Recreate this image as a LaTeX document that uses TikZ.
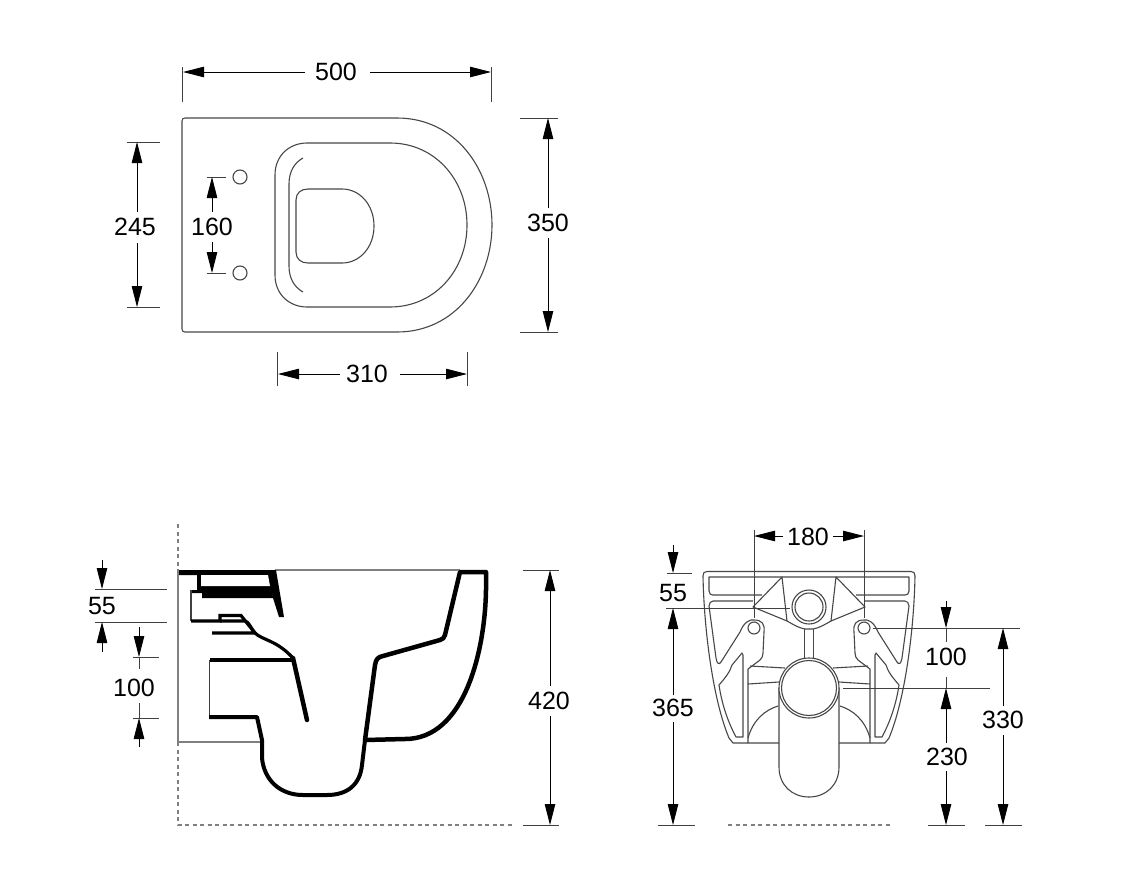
\documentclass[tikz,border=0pt]{standalone}
\usepackage{fontspec}
\setmainfont{Liberation Sans}
\usetikzlibrary{arrows.meta}
\tikzset{
  outline/.style={line width=1.1pt,draw=black!72,line join=round},
  heavy/.style={line width=4.5pt,draw=black,line join=round,line cap=round},
  medium/.style={line width=3.2pt,draw=black,line join=miter},
  grey line/.style={line width=1.1pt,draw=black!50},
  dash line/.style={line width=1.1pt,draw=black!50,dash pattern=on 4pt off 3.5pt},
  dimtip/.style={-{Triangle[length=21pt,width=10.5pt,fill=black]},line width=0.9pt,draw=black},
  ext/.style={line width=0.9pt,draw=black!75},
  label/.style={font=\fontsize{25}{30}\selectfont,text=black,inner sep=0pt}
}
\begin{document}
\begin{tikzpicture}[x=1pt,y=-1pt]
\useasboundingbox[fill=white] (0,0) rectangle (1124,889);
% ---- top view
\draw[outline] (185,118) -- (397,118) .. controls (456,118) and (492,170) .. (492,225)
  .. controls (492,280) and (456,332) .. (397,332) -- (185,332) .. controls (183,332) and (182,331) .. (182,329)
  -- (182,121) .. controls (182,119) and (183,118) .. (185,118) -- cycle;
\draw[outline] (275,175) .. controls (275,155) and (290,143) .. (307,143) -- (390,143)
  .. controls (435,143) and (467,180) .. (467,225) .. controls (467,270) and (435,307) .. (390,307)
  -- (307,307) .. controls (290,307) and (275,295) .. (275,275) -- cycle;
\draw[outline] (303,158) .. controls (294,163) and (289,172) .. (289,184) -- (289,266) .. controls (289,278) and (294,287) .. (303,292);
\draw[outline] (296,200) .. controls (296,193) and (301,189) .. (308,189) -- (342,189)
  .. controls (360,189) and (374,205) .. (374,226) .. controls (374,247) and (360,263) .. (342,263)
  -- (308,263) .. controls (301,263) and (296,259) .. (296,252) -- cycle;
\draw[outline] (240,177) circle (7);
\draw[outline] (240,273) circle (7);
% dims top view
\draw[ext] (182,67) -- (182,102); \draw[ext] (491,67) -- (491,102);
\draw[dimtip] (305,72) -- (183,72); \draw[dimtip] (370,72) -- (491,72);
\node[label] (d500) at (336,72) {500};
\draw[ext] (127,142) -- (160,142); \draw[ext] (127,307) -- (160,307);
\draw[dimtip] (137,212) -- (137,142); \draw[dimtip] (137,243) -- (137,307);
\node[label] (d245) at (135,227) {245};
\draw[ext] (207,177) -- (226,177); \draw[ext] (207,273) -- (226,273);
\draw[dimtip] (212,212) -- (212,177); \draw[dimtip] (212,242) -- (212,273);
\node[label] (d160) at (212,227) {160};
\draw[ext] (520,118) -- (558,118); \draw[ext] (520,332) -- (558,332);
\draw[dimtip] (548,208) -- (548,118); \draw[dimtip] (548,238) -- (548,332);
\node[label] (d350) at (548,223) {350};
\draw[ext] (277,352) -- (277,386); \draw[ext] (467,352) -- (467,386);
\draw[dimtip] (340,374) -- (278,374); \draw[dimtip] (400,374) -- (467,374);
\node[label] (d310) at (367,374) {310};
% ---- side view
\draw[dash line] (178,524) -- (178,570);
\draw[grey line] (178,570) -- (178,742) -- (260,742);
\draw[dash line] (178,742) -- (178,825) -- (513,825);
\draw[grey line] (275,570) -- (460,570);
\fill[black] (179,570) -- (276,570) -- (284,617) -- (279,617) -- (273,598) -- (202,598) -- (202,593) -- (191,593) -- (191,590) -- (197,590) -- (197,575) -- (179,575) -- cycle;
\fill[white] (201,575) -- (268,575) -- (270,586) -- (201,586) -- cycle;
\draw[line width=1.1pt,draw=black!75] (191,590) -- (191,621);
\draw[medium] (191,621) -- (220,621) -- (220,615.5) -- (241,615.5) -- (255,633) .. controls (262,640) and (276,640) .. (292,657);
\draw[medium] (220,621) -- (245,621) .. controls (249,622) and (250,627) .. (255,633) -- (212,633);
\draw[medium] (210,660) -- (293,660);
\draw[heavy] (293,658) -- (307,720);
\draw[line width=1.1pt,draw=black!75] (209.5,660) -- (209.5,717);
\draw[line width=4pt,draw=black,line join=round] (209,717) -- (257,717) -- (262,740)
  -- (262,758) .. controls (264,780) and (280,795) .. (303,795) -- (327,795)
  .. controls (347,795) and (360,785) .. (362,765) -- (365,740);
\draw[heavy] (365,740) -- (375,665) .. controls (376,659) and (378,657) .. (383,656) -- (440,640) .. controls (443,639) and (444,638) .. (445,635) -- (460,572) -- (486,572) -- (486,590)
  .. controls (485,650) and (465,739) .. (405,739) -- (365,740);
% dims side view
\draw[ext] (95,589) -- (167,589); \draw[ext] (95,622) -- (167,622);
\draw[dimtip] (102,560) -- (102,589); \draw[dimtip] (102,652) -- (102,622);
\node[label] (s55) at (102,606) {55};
\draw[ext] (133,657) -- (159,657); \draw[ext] (133,718) -- (159,718);
\draw[dimtip] (139,627) -- (139,657); \draw[ext] (139,657) -- (139,669);
\draw[dimtip] (139,747) -- (139,718); \draw[ext] (139,703) -- (139,718);
\node[label] (s100) at (134,688) {100};
\draw[ext] (523,570) -- (559,570); \draw[ext] (523,825) -- (559,825);
\draw[dimtip] (550,686) -- (550,570); \draw[dimtip] (550,716) -- (550,825);
\node[label] (s420) at (549,701) {420};
% ---- front view
\foreach \s in {1,-1}{
\begin{scope}[shift={(809,0)},xscale=\s]
  \draw[outline] (0,571.5) -- (-102,571.5) .. controls (-105,571.5) and (-106,573) .. (-106,576)
    .. controls (-105,630) and (-96,700) .. (-80,738) -- (-76,743) -- (-30,743);
  \draw[outline] (0,577) -- (-100,577) -- (-100,591) .. controls (-100,594) and (-98,595) .. (-96,595) -- (-47,595);
  \draw[outline] (-56,601) -- (-96,601) .. controls (-98,601) and (-100,603) .. (-100,606)
    -- (-93,658) .. controls (-92,664) and (-90,665) .. (-88,662) -- (-69,632)
    .. controls (-65,622) and (-59,619) .. (-55,620) .. controls (-47,620) and (-44,624) .. (-45,632)
    -- (-46,653) .. controls (-46,656) and (-47,658) .. (-49,660) -- (-61,669) -- (-61,743);
  \draw[outline] (-55,628) circle (6);
  \draw[outline] (-67,653) -- (-77,665) .. controls (-79,672) and (-84,678) .. (-90,685)
    .. controls (-87,705) and (-81,722) .. (-73,737) -- (-66,737) -- (-66,655) -- cycle;
  \draw[outline] (-27,577) -- (-56,607) -- (-22,621) -- cycle;
  \draw[outline] (-22,621) .. controls (-15,625) and (-10,628) .. (-4,629) -- (0,629);
  \draw[outline] (-4.5,629) -- (-4.5,659);
  \draw[outline] (-59,666) -- (-24,668);
  \draw[outline] (-61,684) -- (-30,682);
  \draw[outline] (-61,738) .. controls (-56,720) and (-44,710) .. (-31,706);
  \draw[outline] (-30,688) -- (-30,767) .. controls (-30,785) and (-17,797) .. (0,797);
\end{scope}}
\fill[white] (809,688) circle (30);
\draw[outline] (809,607) circle (17);
\draw[outline] (809,607) circle (14);
\draw[outline] (809,688) circle (30);
\draw[outline] (809,688) circle (27.5);
\draw[dash line] (728,825) -- (892,825);
% dims front view
\draw[ext] (754,530) -- (754,618); \draw[ext] (864,530) -- (864,618);
\draw[dimtip] (783,536) -- (754,536); \draw[dimtip] (833,536) -- (864,536);
\node[label] (f180) at (808,537) {180};
\draw[ext] (667,573) -- (692,573); \draw[ext] (666,608) -- (790,608);
\draw[dimtip] (673,545) -- (673,573);
\node[label] (f55) at (673,593) {55};
\draw[dimtip] (673,695) -- (673,608);
\node[label] (f365) at (673,708) {365};
\draw[dimtip] (673,722) -- (673,825);
\draw[ext] (658,825) -- (695,825);
\draw[ext] (873,628) -- (1020,628); \draw[ext] (843,688) -- (990,688);
\draw[dimtip] (946,601) -- (946,628); \draw[ext] (946,628) -- (946,642);
\node[label] (f100) at (946,657) {100};
\draw[ext] (946,677) -- (946,688);
\draw[dimtip] (946,743) -- (946,688);
\node[label] (f230) at (947,757) {230};
\draw[dimtip] (946,771) -- (946,825);
\draw[ext] (928,825) -- (965,825);
\draw[dimtip] (1003,706) -- (1003,628);
\node[label] (f330) at (1003,720) {330};
\draw[dimtip] (1003,735) -- (1003,825);
\draw[ext] (985,825) -- (1022,825);
\end{tikzpicture}
\end{document}
